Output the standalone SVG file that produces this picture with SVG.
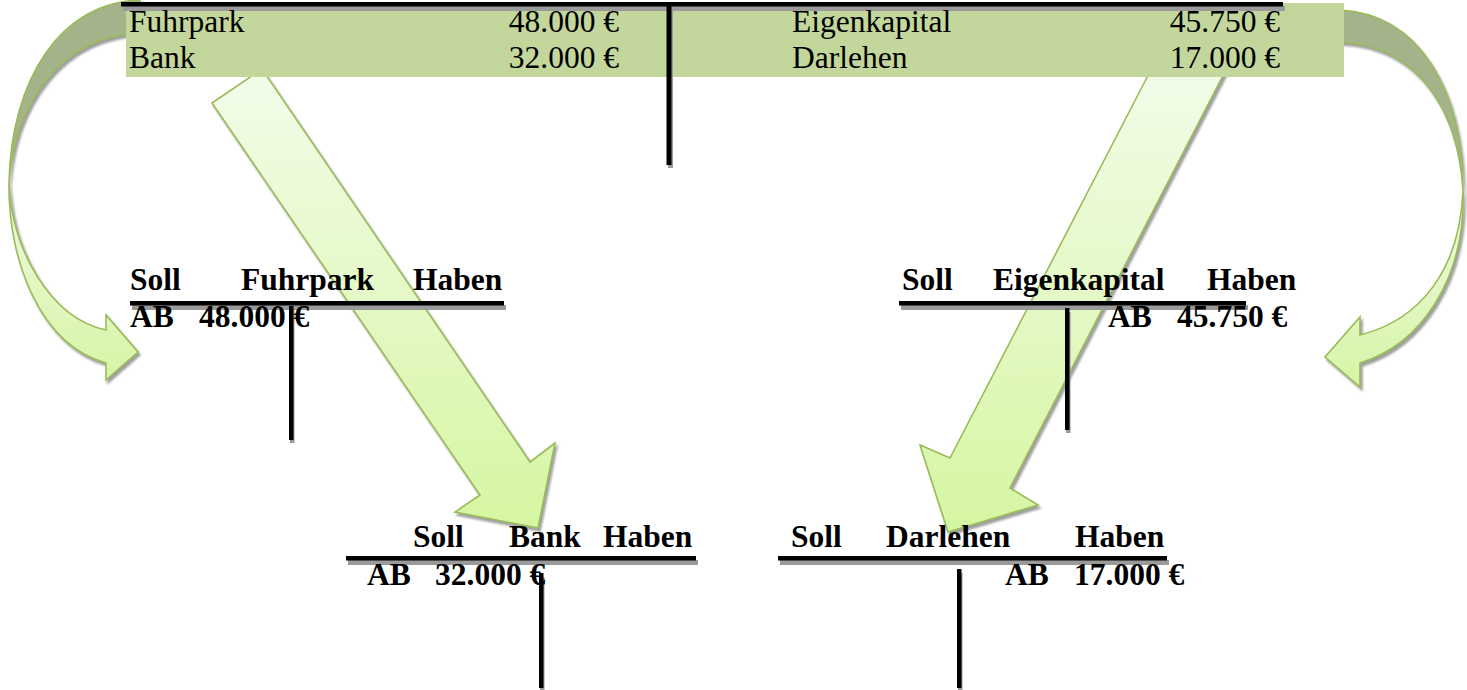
<svg xmlns="http://www.w3.org/2000/svg" width="1467" height="690" viewBox="0 0 1467 690">
<style>
  .reg { font-family: "Liberation Serif", "Times New Roman", serif; font-size: 31.5px; fill: #000; }
  .bold { font-family: "Liberation Serif", "Times New Roman", serif; font-size: 31.5px; font-weight: bold; fill: #000; }
  .end { text-anchor: end; }
  .ln { fill: #000; }
  .sh { fill: #9a9a9a; }
  .arrow { stroke: #9BBB59; stroke-width: 1.6; stroke-linejoin: miter; filter: url(#ds); }
  .back { fill: #A5B38A; }
  .curl { fill: url(#gCurl); }
  .straight { fill: url(#gStraight); }
</style>
<defs>
  <filter id="ds" x="-20%" y="-20%" width="140%" height="140%">
    <feDropShadow dx="2" dy="3" stdDeviation="0.8" flood-color="#7f7f7f" flood-opacity="0.75"/>
  </filter>
  <linearGradient id="gCurl" x1="0" y1="0" x2="0" y2="1">
    <stop offset="0" stop-color="#EEF9E2"/>
    <stop offset="1" stop-color="#D6F5A6"/>
  </linearGradient>
  <linearGradient id="gStraight" x1="0" y1="0" x2="0" y2="1">
    <stop offset="0" stop-color="#F3FCEA"/>
    <stop offset="1" stop-color="#D5F6A2"/>
  </linearGradient>
</defs>
<rect width="1467" height="690" fill="#fff"/>

<g id="connectors">
  <!-- left curved arrow -->
  <path class="arrow back" d="M140,0 C60,2 11,80 9,183 C14,105 60,36 140,33 Z"/>
  <path class="arrow curl" d="M9,183 C8,260 40,345 106,363 L106,380 L138,352 L106,315 L106,330 C50,318 12,250 9,183 Z"/>
  <!-- right curved arrow -->
  <path class="arrow back" d="M1340,10 C1420,14 1462,90 1463,190 C1458,112 1420,46 1340,42 Z"/>
  <path class="arrow curl" d="M1463,190 C1466,280 1420,345 1360,363 L1360,387 L1325,357 L1360,317 L1360,335 C1420,320 1460,270 1463,190 Z"/>
  <!-- straight arrow to Bank -->
  <polygon class="arrow straight" points="212,103 262,69 530,462 555,443 538,528 455,512 480,495"/>
  <!-- straight arrow to Darlehen -->
  <polygon class="arrow straight" points="1156,60 1231,60 1010,488 1038,505 948,532 920,445 950,458"/>
</g>

<g id="bilanz">
  <rect x="126" y="3" width="1218" height="74" fill="#C3D69B"/>
  <rect class="sh" x="123" y="6" width="1162" height="5"/>
  <rect class="ln" x="121" y="2" width="1162" height="4.5"/>
  <rect class="sh" x="668" y="8" width="5" height="160"/>
  <rect class="ln" x="666.5" y="3" width="5" height="162"/>
  <text class="reg" x="129" y="32">Fuhrpark</text>
  <text class="reg" x="129" y="68">Bank</text>
  <text class="reg end" x="619" y="32">48.000 €</text>
  <text class="reg end" x="619" y="68">32.000 €</text>
  <text class="reg" x="792" y="32">Eigenkapital</text>
  <text class="reg" x="792" y="68">Darlehen</text>
  <text class="reg end" x="1280" y="32">45.750 €</text>
  <text class="reg end" x="1280" y="68">17.000 €</text>
</g>

<g id="konto-fuhrpark">
  <rect class="sh" x="132" y="305" width="374" height="5"/>
  <rect class="ln" x="130" y="301" width="374" height="4.5"/>
  <rect class="sh" x="290" y="310" width="4.5" height="133"/>
  <rect class="ln" x="289" y="306" width="4.5" height="134"/>
  <text class="bold" x="130" y="290">Soll</text>
  <text class="bold" x="241" y="290">Fuhrpark</text>
  <text class="bold" x="413" y="290">Haben</text>
  <text class="bold" x="130" y="327">AB</text>
  <text class="bold" x="199" y="327">48.000 €</text>
</g>

<g id="konto-eigenkapital">
  <rect class="sh" x="901" y="305" width="347" height="5"/>
  <rect class="ln" x="899" y="301" width="347" height="4.5"/>
  <rect class="sh" x="1066" y="312" width="4.5" height="121"/>
  <rect class="ln" x="1065" y="308" width="4.5" height="122"/>
  <text class="bold" x="902" y="290">Soll</text>
  <text class="bold" x="993" y="290">Eigenkapital</text>
  <text class="bold" x="1207" y="290">Haben</text>
  <text class="bold" x="1108" y="327">AB</text>
  <text class="bold" x="1177" y="327">45.750 €</text>
</g>

<g id="konto-bank">
  <rect class="sh" x="348" y="560" width="350" height="5"/>
  <rect class="ln" x="346" y="556" width="350" height="4.5"/>
  <rect class="sh" x="540" y="577" width="4.5" height="113"/>
  <rect class="ln" x="539" y="573" width="4.5" height="115"/>
  <text class="bold" x="413" y="547">Soll</text>
  <text class="bold" x="509" y="547">Bank</text>
  <text class="bold" x="603" y="547">Haben</text>
  <text class="bold" x="367" y="585">AB</text>
  <text class="bold" x="435" y="585">32.000 €</text>
</g>

<g id="konto-darlehen">
  <rect class="sh" x="780" y="560" width="389" height="5"/>
  <rect class="ln" x="778" y="556" width="389" height="4.5"/>
  <rect class="sh" x="958" y="573" width="4.5" height="117"/>
  <rect class="ln" x="957" y="569" width="4.5" height="119"/>
  <text class="bold" x="791" y="547">Soll</text>
  <text class="bold" x="886" y="547">Darlehen</text>
  <text class="bold" x="1075" y="547">Haben</text>
  <text class="bold" x="1005" y="585">AB</text>
  <text class="bold" x="1074" y="585">17.000 €</text>
</g>
</svg>
